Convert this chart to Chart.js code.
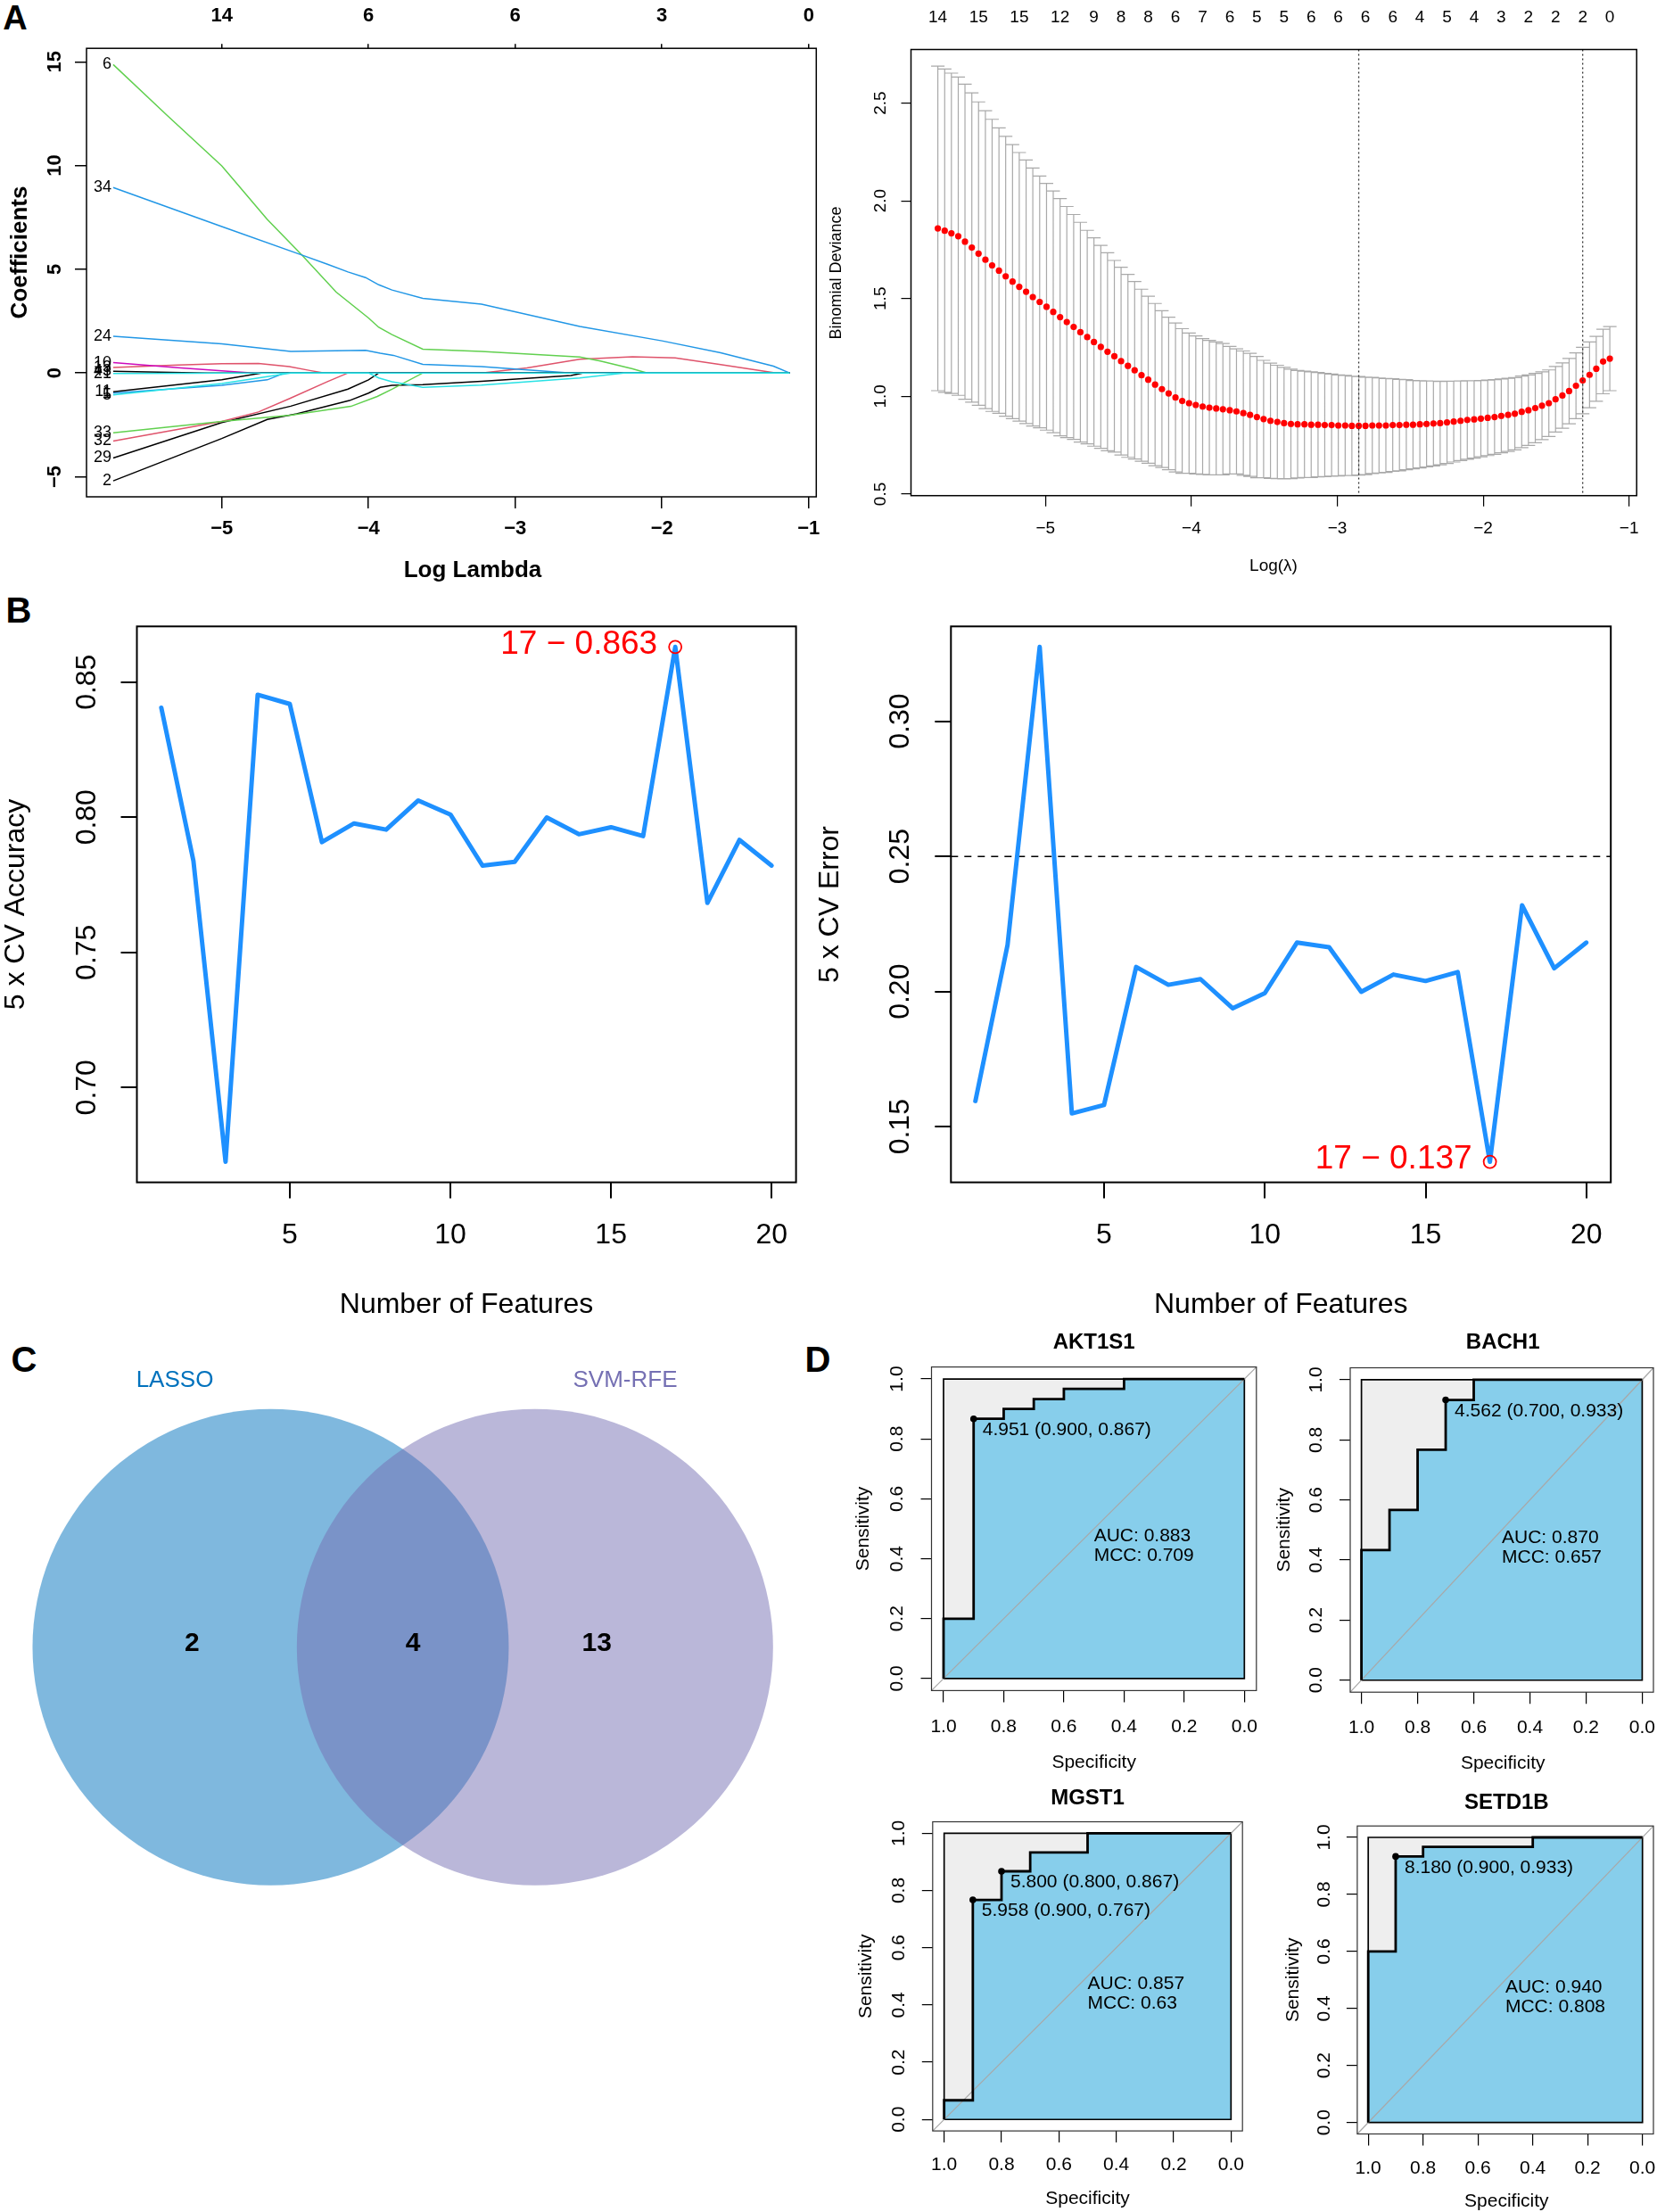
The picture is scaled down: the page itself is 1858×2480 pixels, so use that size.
<!DOCTYPE html>
<html>
<head>
<meta charset="utf-8">
<title>LASSO and SVM-RFE feature selection</title>
<script src="https://cdn.jsdelivr.net/npm/chart.js@4.4.1/dist/chart.umd.min.js"></script>
<style>
  html, body { margin:0; padding:0; background:#ffffff; }
  body { position:relative; width:1858px; height:2480px; overflow:hidden; font-family:'Liberation Sans', Arial, Helvetica, sans-serif; }
  canvas { position:absolute; }
  .panel-letter { position:absolute; font-weight:bold; line-height:1; color:#000; transform:translate(-50%,-50%); }
</style>
</head>
<body>
<div class="panel-letter" style="left:17px;top:20px;font-size:38px;">A</div>
<div class="panel-letter" style="left:21px;top:684px;font-size:40px;">B</div>
<div class="panel-letter" style="left:27px;top:1524px;font-size:40px;">C</div>
<div class="panel-letter" style="left:917px;top:1524px;font-size:40px;">D</div>
<script>
// ======================= DATA =======================
// ---- Panel A (left): LASSO coefficient paths [logLambda, coefficient] ----
const coefXTicks = [-5, -4, -3, -2, -1];
const coefTopCounts = ['14', '6', '6', '3', '0'];
const coefYTicks = [-5, 0, 5, 10, 15];
const path5  = [[-5.74,-1.06],[-5.0,-0.51],[-4.57,-0.05],[-4.53,0],[-4.0,0],[-3.93,-0.24],[-3.84,-0.42],[-3.63,-0.69],[-3.23,-0.58],[-2.56,-0.24],[-2.26,0],[-1.13,0]];
const path21 = [[-5.74,-0.03],[-5.2,-0.01],[-5.0,0],[-1.13,0]];
const path11 = [[-5.74,-0.91],[-5.0,-0.33],[-4.73,0],[-1.13,0]];
const path1  = [[-5.74,-0.97],[-5.0,-0.6],[-4.69,-0.33],[-4.57,0],[-1.13,0]];
const path43 = [[-5.74,0.08],[-5.35,0.03],[-5.1,0],[-1.13,0]];
const path10 = [[-5.74,0.5],[-5.3,0.25],[-4.85,0.03],[-4.78,0],[-1.13,0]];
const path13 = [[-5.74,0.26],[-5.3,0.38],[-5.0,0.45],[-4.75,0.46],[-4.54,0.31],[-4.4,0.12],[-4.3,0],[-1.13,0]];
const path24 = [[-5.74,1.77],[-5.0,1.4],[-4.53,1.04],[-4.02,1.09],[-3.92,0.95],[-3.83,0.85],[-3.63,0.42],[-3.23,0.31],[-2.62,0],[-1.13,0]];
const path34 = [[-5.74,8.94],[-5.0,7.06],[-4.455,5.69],[-4.28,5.24],[-4.14,4.87],[-4.02,4.6],[-3.93,4.25],[-3.84,4.0],[-3.63,3.6],[-3.23,3.32],[-2.56,2.24],[-2.0,1.55],[-1.6,0.97],[-1.24,0.33],[-1.13,0]];
const path6  = [[-5.74,14.87],[-5.37,12.4],[-5.0,9.98],[-4.89,9.07],[-4.69,7.4],[-4.455,5.69],[-4.22,3.9],[-4.0,2.65],[-3.93,2.2],[-3.84,1.85],[-3.63,1.15],[-3.23,1.04],[-2.56,0.77],[-2.42,0.58],[-2.2,0.2],[-2.1,0],[-1.13,0]];
const path33 = [[-5.74,-2.88],[-5.0,-2.34],[-4.53,-2.04],[-4.12,-1.61],[-3.94,-1.13],[-3.84,-0.78],[-3.63,0],[-1.13,0]];
const path32 = [[-5.74,-3.28],[-5.0,-2.34],[-4.75,-1.88],[-4.54,-1.24],[-4.28,-0.42],[-4.14,0],[-3.23,0],[-2.92,0.24],[-2.56,0.66],[-2.2,0.78],[-1.91,0.73],[-1.61,0.42],[-1.22,0],[-1.13,0]];
const path29 = [[-5.74,-4.10],[-5.0,-2.39],[-4.53,-1.6],[-4.14,-0.78],[-4.0,-0.33],[-3.93,0],[-1.13,0]];
const path2  = [[-5.74,-5.2],[-5.0,-3.16],[-4.69,-2.24],[-4.49,-1.97],[-4.13,-1.33],[-4.0,-0.97],[-3.92,-0.69],[-3.84,-0.6],[-3.63,-0.56],[-3.23,-0.4],[-2.62,-0.12],[-2.54,0],[-1.13,0]];
const pathNames = ['5','21','11','1','43','10','13','24','34','6','33','32','29','2'];
const coefPaths = [path5, path21, path11, path1, path43, path10, path13, path24, path34, path6, path33, path32, path29, path2];

// ---- Panel A (right): cross-validated binomial deviance ----
const cvLogLambda = [
 -5.738,-5.691,-5.645,-5.598,-5.552,-5.505,-5.459,-5.412,-5.366,-5.319,
 -5.273,-5.226,-5.180,-5.133,-5.087,-5.040,-4.993,-4.947,-4.900,-4.854,
 -4.807,-4.761,-4.714,-4.668,-4.621,-4.575,-4.528,-4.482,-4.435,-4.389,
 -4.342,-4.296,-4.249,-4.202,-4.156,-4.109,-4.063,-4.016,-3.970,-3.923,
 -3.877,-3.830,-3.784,-3.737,-3.691,-3.644,-3.598,-3.551,-3.505,-3.458,
 -3.411,-3.365,-3.318,-3.272,-3.225,-3.179,-3.132,-3.086,-3.039,-2.993,
 -2.946,-2.900,-2.853,-2.807,-2.760,-2.714,-2.667,-2.620,-2.574,-2.527,
 -2.481,-2.434,-2.388,-2.341,-2.295,-2.248,-2.202,-2.155,-2.109,-2.062,
 -2.016,-1.969,-1.922,-1.876,-1.829,-1.783,-1.736,-1.690,-1.643,-1.597,
 -1.550,-1.504,-1.457,-1.411,-1.364,-1.318,-1.271,-1.225,-1.178,-1.132];
const cvMean = [
 1.859,1.847,1.834,1.819,1.791,1.761,1.730,1.699,1.670,1.643,
 1.614,1.587,1.560,1.535,1.508,1.483,1.458,1.432,1.405,1.380,
 1.355,1.328,1.303,1.278,1.253,1.228,1.205,1.180,1.156,1.133,
 1.108,1.085,1.060,1.037,1.015,0.994,0.976,0.965,0.956,0.948,
 0.942,0.938,0.934,0.929,0.923,0.914,0.905,0.894,0.884,0.875,
 0.869,0.863,0.859,0.857,0.857,0.855,0.855,0.853,0.853,0.851,
 0.851,0.849,0.849,0.849,0.851,0.851,0.851,0.853,0.853,0.855,
 0.855,0.857,0.859,0.861,0.863,0.867,0.871,0.875,0.879,0.882,
 0.886,0.890,0.894,0.900,0.905,0.911,0.921,0.929,0.940,0.952,
 0.965,0.985,1.004,1.027,1.054,1.081,1.110,1.141,1.178,1.193];
const cvSd = [
 0.830,0.827,0.819,0.814,0.806,0.791,0.776,0.762,0.747,0.730,
 0.716,0.701,0.687,0.674,0.660,0.644,0.631,0.618,0.607,0.591,
 0.575,0.562,0.546,0.533,0.519,0.506,0.490,0.480,0.468,0.454,
 0.440,0.427,0.415,0.401,0.390,0.381,0.370,0.359,0.353,0.347,
 0.344,0.340,0.336,0.326,0.320,0.318,0.315,0.310,0.300,0.295,
 0.290,0.285,0.280,0.275,0.272,0.270,0.267,0.264,0.261,0.258,
 0.256,0.254,0.252,0.249,0.246,0.243,0.240,0.237,0.234,0.230,
 0.226,0.223,0.220,0.217,0.213,0.210,0.207,0.204,0.201,0.198,
 0.195,0.193,0.191,0.189,0.187,0.185,0.183,0.180,0.177,0.173,
 0.170,0.168,0.167,0.167,0.168,0.170,0.168,0.166,0.165,0.164];
const cvXTicks = [-5, -4, -3, -2, -1];
const cvYTicks = [0.5, 1.0, 1.5, 2.0, 2.5];
const cvTopPos = [-5.738,-5.459,-5.180,-4.900,-4.668,-4.482,-4.296,-4.109,-3.923,-3.737,-3.551,-3.365,-3.179,-2.993,-2.807,-2.620,-2.434,-2.248,-2.062,-1.876,-1.690,-1.504,-1.318,-1.132];
const cvTopCounts = ['14','15','15','12','9','8','8','6','7','6','5','5','6','6','6','6','4','5','4','3','2','2','2','0'];
const cvLambdaMin = -2.853;
const cvLambda1se = -1.318;

// ---- Panel B: SVM-RFE 5-fold CV ----
const nFeatures = [1,2,3,4,5,6,7,8,9,10,11,12,13,14,15,16,17,18,19,20];
const cvAccuracy = [0.8405,0.7838,0.6725,0.8453,0.8419,0.7908,0.7977,0.7954,0.8062,0.8010,0.7821,0.7835,0.7999,0.7937,0.7963,0.7930,0.863,0.7683,0.7916,0.7821];
const cvError = [0.1595,0.2172,0.3275,0.1549,0.1580,0.2091,0.2025,0.2046,0.1938,0.1994,0.2181,0.2164,0.1999,0.2063,0.2039,0.2072,0.137,0.2319,0.2086,0.2181];
const featTicks = [5, 10, 15, 20];
const accTicks = [0.70, 0.75, 0.80, 0.85];
const errTicks = [0.15, 0.20, 0.25, 0.30];
const errReference = 0.25;

// ---- Panel C: Venn diagram ----
const vennSetNames = ['LASSO', 'SVM-RFE'];
const vennCounts = [2, 4, 13];   // LASSO only, shared, SVM-RFE only

// ---- Panel D: ROC curves (specificity, sensitivity) ----
const rocGenes = ['AKT1S1', 'BACH1', 'MGST1', 'SETD1B'];
const akt1s1Spec = [1,1,0.9,0.9,0.8,0.8,0.7,0.7,0.6,0.6,0.4,0.4,0];
const akt1s1Sens = [0,0.2,0.2,0.867,0.867,0.9,0.9,0.933,0.933,0.967,0.967,1,1];
const bach1Spec = [1,1,0.9,0.9,0.8,0.8,0.7,0.7,0.6,0.6,0];
const bach1Sens = [0,0.433,0.433,0.567,0.567,0.767,0.767,0.933,0.933,1,1];
const mgst1Spec = [1,1,0.9,0.9,0.8,0.8,0.7,0.7,0.5,0.5,0];
const mgst1Sens = [0,0.067,0.067,0.767,0.767,0.867,0.867,0.933,0.933,1,1];
const setd1bSpec = [1,1,0.9,0.9,0.8,0.8,0.4,0.4,0];
const setd1bSens = [0,0.6,0.6,0.933,0.933,0.967,0.967,1,1];
const akt1s1Thr = [4.951], akt1s1ThrSpec = [0.900], akt1s1ThrSens = [0.867];
const bach1Thr = [4.562], bach1ThrSpec = [0.700], bach1ThrSens = [0.933];
const mgst1Thr = [5.800, 5.958], mgst1ThrSpec = [0.800, 0.900], mgst1ThrSens = [0.867, 0.767];
const setd1bThr = [8.180], setd1bThrSpec = [0.900], setd1bThrSens = [0.933];
const rocAUC = [0.883, 0.870, 0.857, 0.940];
const rocMCC = ['0.709', '0.657', '0.63', '0.808'];
const rocTicks = [0, 0.2, 0.4, 0.6, 0.8, 1.0];

// ======================= HELPERS =======================
const FONT = "'Liberation Sans', Arial, Helvetica, sans-serif";
Chart.defaults.font.family = FONT;
Chart.defaults.color = '#000';
Chart.defaults.animation = false;
Chart.defaults.responsive = false;
Chart.defaults.maintainAspectRatio = false;
Chart.defaults.events = [];
Chart.defaults.plugins.legend.display = false;
Chart.defaults.plugins.tooltip.enabled = false;

const cssFont = (size, weight) => `${weight || 'normal'} ${size}px ${FONT}`;
const tickFont = (size, weight) => ({ family: FONT, size: size, weight: weight || 'normal', lineHeight: 1 });
const minus = v => (v < 0 ? '\u2212' + Math.abs(v) : String(v));

function makeCanvas(rect) {
  const c = document.createElement('canvas');
  c.width = rect.w; c.height = rect.h;
  c.style.left = rect.x + 'px'; c.style.top = rect.y + 'px';
  c.style.width = rect.w + 'px'; c.style.height = rect.h + 'px';
  document.body.appendChild(c);
  return c;
}
// layout padding so that the chart area lands on `area`; horizontal axes keep a band of
// `spaceTop` / `spaceBottom` pixels for their tick labels
function padFor(rect, area, spaceTop, spaceBottom) {
  return { left: area.l - rect.x, top: area.t - rect.y - (spaceTop || 0),
           right: rect.x + rect.w - area.r, bottom: rect.y + rect.h - area.b - (spaceBottom || 0) };
}
function axis(o) {
  const hasTicks = !!o.tl;
  return {
    type: 'linear', position: o.position || 'bottom', min: o.min, max: o.max, reverse: !!o.reverse,
    afterFit: s => {
      if (s.isHorizontal()) s.height = o.space || 0; else s.width = 0;
      s.paddingLeft = 0; s.paddingRight = 0; s.paddingTop = 0; s.paddingBottom = 0;
    },
    afterBuildTicks: s => { s.ticks = o.ticks.map(v => ({ value: v })); },
    grid: { display: hasTicks, drawOnChartArea: false, drawTicks: hasTicks, tickLength: o.tl || 0,
            tickColor: o.color || '#000', tickWidth: o.lw || 1, color: o.color || '#000', lineWidth: o.lw || 1 },
    border: { display: false },
    ticks: { display: !!o.font, autoSkip: false, maxRotation: 0, minRotation: 0, padding: o.pad || 0,
             font: o.font, color: '#000', callback: (v, i) => (o.fmt ? o.fmt(v, i) : String(v)) }
  };
}
function txt(ctx, s, x, y, font, opt) {
  opt = opt || {};
  ctx.save();
  ctx.font = font; ctx.fillStyle = opt.color || '#000';
  ctx.textAlign = opt.align || 'center'; ctx.textBaseline = 'middle';
  ctx.translate(x, y);
  if (opt.rot) ctx.rotate(opt.rot);
  ctx.fillText(s, 0, 0);
  ctx.restore();
}
function decor(spec) {
  return {
    id: 'decor',
    beforeDatasetsDraw(chart) { if (spec.under) spec.under(chart); },
    beforeDatasetDraw(chart, args) { if (spec.beforeDataset) spec.beforeDataset(chart, args.index); },
    afterDatasetsDraw(chart) { if (spec.over) spec.over(chart); },
    afterDraw(chart) {
      const ctx = chart.ctx, a = chart.chartArea, r = spec.rect;
      if (spec.box) {
        ctx.save(); ctx.strokeStyle = spec.box.color; ctx.lineWidth = spec.box.width;
        ctx.strokeRect(a.left, a.top, a.right - a.left, a.bottom - a.top); ctx.restore();
      }
      if (spec.yLabels) {
        const s = chart.scales.y, yl = spec.yLabels;
        s.ticks.forEach(t => txt(ctx, yl.fmt(t.value), yl.x - r.x, s.getPixelForValue(t.value), yl.font, { rot: -Math.PI / 2 }));
      }
      (spec.texts || []).forEach(t => txt(ctx, t.s, t.x - r.x, t.y - r.y, t.font, { rot: t.rot, color: t.color, align: t.align }));
      if (spec.after) spec.after(chart);
    }
  };
}

// ======================= PANEL A (left) =======================
(function () {
  const rect = { x: 0, y: 0, w: 933, h: 664 };
  const area = { l: 97.0, t: 54.2, r: 915.3, b: 557.0 };
  const xr = { min: -5.922, max: -0.948 };
  const pathColors = { '5': '#28E2E5', '21': '#28E2E5', '11': '#000000', '1': '#2297E6', '43': '#000000', '10': '#CD0BBC',
    '13': '#DF536B', '24': '#2297E6', '34': '#2297E6', '6': '#61D04F', '33': '#61D04F', '32': '#DF536B', '29': '#000000', '2': '#000000' };
  new Chart(makeCanvas(rect), {
    type: 'scatter',
    data: { datasets: coefPaths.map((p, i) => ({
      label: pathNames[i], data: p.map(q => ({ x: q[0], y: q[1] })),
      showLine: true, pointRadius: 0, borderWidth: 1.5, borderColor: pathColors[pathNames[i]], fill: false, tension: 0
    })) },
    options: {
      layout: { padding: padFor(rect, area, 50, 60) },
      scales: {
        x: axis({ min: xr.min, max: xr.max, ticks: coefXTicks, tl: 13, lw: 1.5, font: tickFont(22, 'bold'), pad: 12, fmt: minus, space: 60 }),
        x2: axis({ min: xr.min, max: xr.max, position: 'top', ticks: coefXTicks, tl: 5, lw: 1.5, font: tickFont(22, 'bold'), pad: 20.4, fmt: (v, i) => coefTopCounts[i], space: 50 }),
        y: axis({ min: -5.97, max: 15.65, position: 'left', ticks: coefYTicks, tl: 13, lw: 1.5 })
      }
    },
    plugins: [decor({
      rect, box: { color: '#000', width: 1.5 },
      yLabels: { x: 62, font: cssFont(22, 'bold'), fmt: minus },
      texts: [
        { s: 'Coefficients', x: 23, y: 283, font: cssFont(26, 'bold'), rot: -Math.PI / 2 },
        { s: 'Log Lambda', x: 530, y: 640, font: cssFont(26, 'bold') }
      ],
      after(chart) {
        const ctx = chart.ctx, xs = chart.scales.x, ys = chart.scales.y;
        chart.data.datasets.forEach(ds => {
          const p0 = ds.data[0];
          txt(ctx, ds.label, xs.getPixelForValue(p0.x) - 2, ys.getPixelForValue(p0.y), cssFont(18), { align: 'right' });
        });
      }
    })]
  });
})();

// ======================= PANEL A (right) =======================
(function () {
  const rect = { x: 915, y: 0, w: 943, h: 664 };
  const area = { l: 1021.5, t: 55.5, r: 1835.2, b: 555.7 };
  const xr = { min: -5.922, max: -0.948 };
  new Chart(makeCanvas(rect), {
    type: 'scatter',
    data: { datasets: [{ data: cvLogLambda.map((x, i) => ({ x: x, y: cvMean[i] })), pointRadius: 3.6, backgroundColor: '#FF0000', borderWidth: 0 }] },
    options: {
      layout: { padding: padFor(rect, area, 52, 60) },
      scales: {
        x: axis({ min: xr.min, max: xr.max, ticks: cvXTicks, tl: 12, lw: 1.2, font: tickFont(19), pad: 15.8, fmt: minus, space: 60 }),
        x2: axis({ min: xr.min, max: xr.max, position: 'top', ticks: cvTopPos, font: tickFont(19), pad: 26, fmt: (v, i) => cvTopCounts[i], space: 52 }),
        y: axis({ min: 0.492, max: 2.774, position: 'left', ticks: cvYTicks, tl: 11, lw: 1.2 })
      }
    },
    plugins: [decor({
      rect, box: { color: '#000', width: 1.5 },
      yLabels: { x: 988, font: cssFont(19), fmt: v => v.toFixed(1) },
      texts: [
        { s: 'Binomial Deviance', x: 938, y: 306, font: cssFont(18), rot: -Math.PI / 2 },
        { s: 'Log(\u03BB)', x: 1428, y: 635, font: cssFont(19) }
      ],
      under(chart) {
        const ctx = chart.ctx, xs = chart.scales.x, ys = chart.scales.y;
        const hw = (Math.max(...cvLogLambda) - Math.min(...cvLogLambda)) * 0.01;
        ctx.save(); ctx.strokeStyle = '#A9A9A9'; ctx.lineWidth = 1.2; ctx.beginPath();
        cvLogLambda.forEach((lx, i) => {
          const pu = ys.getPixelForValue(cvMean[i] + cvSd[i]), pl = ys.getPixelForValue(cvMean[i] - cvSd[i]);
          const px = xs.getPixelForValue(lx), a = xs.getPixelForValue(lx - hw), b = xs.getPixelForValue(lx + hw);
          ctx.moveTo(px, pu); ctx.lineTo(px, pl);
          ctx.moveTo(a, pu); ctx.lineTo(b, pu);
          ctx.moveTo(a, pl); ctx.lineTo(b, pl);
        });
        ctx.stroke(); ctx.restore();
      },
      over(chart) {
        const ctx = chart.ctx, xs = chart.scales.x, a = chart.chartArea;
        ctx.save(); ctx.strokeStyle = '#333'; ctx.lineWidth = 1.3; ctx.setLineDash([2, 3]);
        [cvLambdaMin, cvLambda1se].forEach(v => {
          const px = xs.getPixelForValue(v);
          ctx.beginPath(); ctx.moveTo(px, a.top); ctx.lineTo(px, a.bottom); ctx.stroke();
        });
        ctx.restore();
      }
    })]
  });
})();

// ======================= PANEL B =======================
function cvPanel(o) {
  const values = o.values;
  const best = o.pickMax ? values.indexOf(Math.max(...values)) : values.indexOf(Math.min(...values));
  new Chart(makeCanvas(o.rect), {
    type: 'scatter',
    data: { datasets: [
      { data: [{ x: nFeatures[best], y: values[best] }], pointRadius: 7, borderColor: '#FF0000', borderWidth: 1.8, backgroundColor: 'rgba(0,0,0,0)' },
      { data: nFeatures.map((x, i) => ({ x: x, y: values[i] })), showLine: true, pointRadius: 0, borderColor: '#1E90FF', borderWidth: 5,
        borderJoinStyle: 'round', borderCapStyle: 'round', fill: false }
    ] },
    options: {
      layout: { padding: padFor(o.rect, o.area, 0, 90) },
      scales: {
        x: axis({ min: 0.24, max: 20.76, ticks: featTicks, tl: 18, lw: 2, font: tickFont(32), pad: 25.4, space: 90 }),
        y: axis({ min: o.ymin, max: o.ymax, position: 'left', ticks: o.yTicks, tl: 18, lw: 2 })
      }
    },
    plugins: [decor({
      rect: o.rect, box: { color: '#000', width: 2 },
      yLabels: { x: o.yLabelX, font: cssFont(32), fmt: v => v.toFixed(2) },
      texts: [
        { s: o.yTitle, x: o.yTitleX, y: 1014, font: cssFont(32), rot: -Math.PI / 2 },
        { s: 'Number of Features', x: (o.area.l + o.area.r) / 2, y: 1463, font: cssFont(32) }
      ],
      under(chart) {
        if (o.refLine === undefined) return;
        const ctx = chart.ctx, ys = chart.scales.y, a = chart.chartArea, py = ys.getPixelForValue(o.refLine);
        ctx.save(); ctx.strokeStyle = '#000'; ctx.lineWidth = 1.5; ctx.setLineDash([8, 7]);
        ctx.beginPath(); ctx.moveTo(a.left, py); ctx.lineTo(a.right, py); ctx.stroke(); ctx.restore();
      },
      after(chart) {
        const xs = chart.scales.x, ys = chart.scales.y;
        const px = xs.getPixelForValue(nFeatures[best]), py = ys.getPixelForValue(values[best]);
        txt(chart.ctx, nFeatures[best] + ' \u2212 ' + values[best].toFixed(3), px - 20, py - 3, cssFont(37), { align: 'right', color: '#FF0000' });
      }
    })]
  });
}
cvPanel({ rect: { x: 0, y: 664, w: 933, h: 822 }, area: { l: 153.5, t: 702.3, r: 892.6, b: 1325.6 },
  values: cvAccuracy, pickMax: true, ymin: 0.6649, ymax: 0.8706, yTicks: accTicks, yLabelX: 98, yTitle: '5 x CV Accuracy', yTitleX: 18 });
cvPanel({ rect: { x: 915, y: 664, w: 943, h: 822 }, area: { l: 1066.3, t: 702.3, r: 1806.2, b: 1325.6 },
  values: cvError, pickMax: false, ymin: 0.1294, ymax: 0.3351, yTicks: errTicks, yLabelX: 1010, yTitle: '5 x CV Error', yTitleX: 931, refLine: errReference });

// ======================= PANEL C (Venn) =======================
(function () {
  const rect = { x: 0, y: 1486, w: 933, h: 994 };
  const vennCenters = [-0.555, 0.555];              // circle centres, in units of the circle radius
  const countPos = [[-0.885, 0.015], [0.0425, 0.015], [0.815, 0.015]];
  const namePos = [[-0.9575, 1.1206], [0.934, 1.1206]];
  const setColors = ['rgb(0,114,189)', 'rgb(117,112,179)'];
  const radiusPx = c => { const s = c.chart.scales.x; return s.getPixelForValue(1) - s.getPixelForValue(0); };
  new Chart(makeCanvas(rect), {
    type: 'scatter',
    data: { datasets: [{ data: vennCenters.map(x => ({ x: x, y: 0 })), backgroundColor: ['rgba(0,114,189,0.5)', 'rgba(117,112,179,0.5)'],
      borderWidth: 0, pointRadius: radiusPx, pointHoverRadius: radiusPx, clip: false }] },
    options: {
      layout: { padding: 0 },
      scales: { x: { type: 'linear', display: false, min: -1.6916, max: 1.8028 }, y: { type: 'linear', display: false, min: -2.3718, max: 1.351 } }
    },
    plugins: [decor({
      rect,
      after(chart) {
        const ctx = chart.ctx, xs = chart.scales.x, ys = chart.scales.y;
        vennSetNames.forEach((n, i) => txt(ctx, n, xs.getPixelForValue(namePos[i][0]), ys.getPixelForValue(namePos[i][1]), cssFont(26), { color: setColors[i] }));
        vennCounts.forEach((n, i) => txt(ctx, String(n), xs.getPixelForValue(countPos[i][0]), ys.getPixelForValue(countPos[i][1]), cssFont(30, 'bold')));
      }
    })]
  });
})();

// ======================= PANEL D (ROC) =======================
const rocTextAnchor = { spec: 0.5, sens: 0.475 };
function rocChart(o) {
  const curve = o.spec.map((s, i) => ({ x: s, y: o.sens[i] }));
  const unitSquare = [{ x: 1, y: 0 }, { x: 1, y: 1 }, { x: 0, y: 1 }, { x: 0, y: 0 }];
  const aucPoly = curve.concat([{ x: 0, y: 0 }]);
  const cx = (o.area.l + o.area.r) / 2, cy = (o.area.t + o.area.b) / 2;
  const space = 62;
  new Chart(makeCanvas(o.rect), {
    type: 'scatter',
    data: { datasets: [
      { data: o.thrSpec.map((s, i) => ({ x: s, y: o.thrSens[i] })), pointRadius: 3.8, backgroundColor: '#000', borderWidth: 0 },
      { data: curve, showLine: true, pointRadius: 0, borderColor: '#000', borderWidth: 2.8, fill: false, borderJoinStyle: 'miter' },
      { data: unitSquare.concat([unitSquare[0]]), showLine: true, pointRadius: 0, borderColor: '#000', borderWidth: 1.7, fill: false },
      { data: aucPoly, showLine: true, pointRadius: 0, borderColor: 'rgba(0,0,0,0)', borderWidth: 0, fill: 'shape', backgroundColor: '#87CEEB' },
      { data: unitSquare, showLine: true, pointRadius: 0, borderColor: 'rgba(0,0,0,0)', borderWidth: 0, fill: 'shape', backgroundColor: '#EEEEEE' }
    ] },
    options: {
      layout: { padding: padFor(o.rect, o.area, 0, space) },
      scales: {
        x: axis({ min: -0.04, max: 1.04, reverse: true, ticks: rocTicks, tl: 13, lw: 1.2, font: tickFont(21),
                  pad: o.xTickY - o.area.b - 13 - 10.5, fmt: v => v.toFixed(1), space: space }),
        y: axis({ min: -0.04, max: 1.04, position: 'left', ticks: rocTicks, tl: 12, lw: 1.2 })
      }
    },
    plugins: [decor({
      rect: o.rect, box: { color: '#333', width: 1.2 },
      yLabels: { x: o.yTickX, font: cssFont(21), fmt: v => v.toFixed(1) },
      texts: [
        { s: o.title, x: cx, y: o.titleY, font: cssFont(24, 'bold') },
        { s: 'Sensitivity', x: o.sensX, y: cy, font: cssFont(21), rot: -Math.PI / 2 },
        { s: 'Specificity', x: cx, y: o.specY, font: cssFont(21) }
      ],
      beforeDataset(chart, index) {
        if (index !== 1) return;   // identity line drawn just under the ROC curve
        const ctx = chart.ctx, xs = chart.scales.x, ys = chart.scales.y, a = chart.chartArea;
        ctx.save(); ctx.beginPath(); ctx.rect(a.left, a.top, a.right - a.left, a.bottom - a.top); ctx.clip();
        ctx.strokeStyle = '#A8A8A8'; ctx.lineWidth = 1.2; ctx.beginPath();
        ctx.moveTo(xs.getPixelForValue(xs.max), ys.getPixelForValue(1 - xs.max));
        ctx.lineTo(xs.getPixelForValue(xs.min), ys.getPixelForValue(1 - xs.min));
        ctx.stroke(); ctx.restore();
      },
      after(chart) {
        const ctx = chart.ctx, xs = chart.scales.x, ys = chart.scales.y;
        o.thr.forEach((t, i) => {
          const px = xs.getPixelForValue(o.thrSpec[i]), py = ys.getPixelForValue(o.thrSens[i]);
          txt(ctx, t.toFixed(3) + ' (' + o.thrSpec[i].toFixed(3) + ', ' + o.thrSens[i].toFixed(3) + ')', px + 10, py + 12.5, cssFont(21), { align: 'left' });
        });
        const ax = xs.getPixelForValue(rocTextAnchor.spec), ay = ys.getPixelForValue(rocTextAnchor.sens);
        txt(ctx, 'AUC: ' + o.auc.toFixed(3), ax, ay, cssFont(21), { align: 'left' });
        txt(ctx, 'MCC: ' + o.mcc, ax, ay + 22, cssFont(21), { align: 'left' });
      }
    })]
  });
}
rocChart({ title: rocGenes[0], spec: akt1s1Spec, sens: akt1s1Sens, thr: akt1s1Thr, thrSpec: akt1s1ThrSpec, thrSens: akt1s1ThrSens, auc: rocAUC[0], mcc: rocMCC[0],
  rect: { x: 920, y: 1480, w: 500, h: 520 }, area: { l: 1044.5, t: 1532.6, r: 1408.8, b: 1895.4 },
  titleY: 1505.3, sensX: 968, specY: 1976, yTickX: 1006.3, xTickY: 1936 });
rocChart({ title: rocGenes[1], spec: bach1Spec, sens: bach1Sens, thr: bach1Thr, thrSpec: bach1ThrSpec, thrSens: bach1ThrSens, auc: rocAUC[1], mcc: rocMCC[1],
  rect: { x: 1400, y: 1480, w: 458, h: 520 }, area: { l: 1514.0, t: 1533.5, r: 1856.4, b: 1897.2 },
  titleY: 1505, sensX: 1440.7, specY: 1977.7, yTickX: 1476.7, xTickY: 1937.7 });
rocChart({ title: rocGenes[2], spec: mgst1Spec, sens: mgst1Sens, thr: mgst1Thr, thrSpec: mgst1ThrSpec, thrSens: mgst1ThrSens, auc: rocAUC[2], mcc: rocMCC[2],
  rect: { x: 920, y: 1990, w: 500, h: 490 }, area: { l: 1045.8, t: 2042.5, r: 1393.2, b: 2389.1 },
  titleY: 2016, sensX: 971.3, specY: 2465, yTickX: 1008, xTickY: 2427.3 });
rocChart({ title: rocGenes[3], spec: setd1bSpec, sens: setd1bSens, thr: setd1bThr, thrSpec: setd1bThrSpec, thrSens: setd1bThrSens, auc: rocAUC[3], mcc: rocMCC[3],
  rect: { x: 1400, y: 1990, w: 458, h: 490 }, area: { l: 1521.9, t: 2047.2, r: 1856.7, b: 2392.5 },
  titleY: 2021.7, sensX: 1450, specY: 2468.3, yTickX: 1485, xTickY: 2431.7 });
</script>
</body>
</html>
